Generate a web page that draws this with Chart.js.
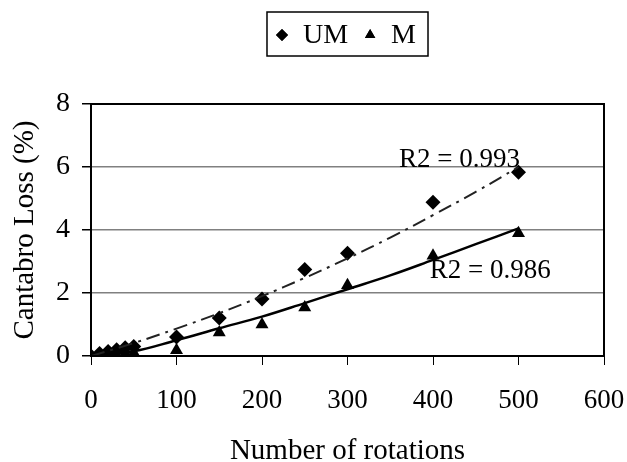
<!DOCTYPE html>
<html>
<head>
<meta charset="utf-8">
<script src="https://cdn.jsdelivr.net/npm/chart.js@4"></script>
<style>
  html, body { margin: 0; padding: 0; background: #fff; }
  #wrap { width: 627px; height: 462px; }
</style>
</head>
<body>
<div id="wrap"><canvas id="chart" width="627" height="462"></canvas></div>
<script>
// values
const rotations = [0, 10, 20, 30, 40, 50, 100, 150, 200, 250, 300, 400, 500];
const lossUM = [0, 0.08, 0.14, 0.2, 0.26, 0.3, 0.6, 1.21, 1.81, 2.75, 3.26, 4.88, 5.83];
const lossM = [0, 0, 0.02, 0.04, 0.06, 0.1, 0.18, 0.75, 1.0, 1.54, 2.25, 3.18, 3.9];

// trend lines (as drawn in the reference)
const trendX = [0, 50, 100, 150, 200, 250, 300, 350, 400, 450, 500];
const trendUM = [0, 0.41, 0.87, 1.36, 1.9, 2.48, 3.1, 3.76, 4.47, 5.21, 6.0];
const trendM = [0, 0.15, 0.5, 0.88, 1.25, 1.68, 2.12, 2.56, 3.05, 3.55, 4.05];

const seriesNames = ['UM', 'M'];
const r2Labels = ['R2 = 0.993', 'R2 = 0.986'];

const FONT = "'Liberation Serif', 'Times New Roman', serif";

const toPoints = (xs, ys) => xs.map((x, i) => ({ x, y: ys[i] }));

// draws the frame, the boxed legend and the R2 notes
const extras = {
  id: 'extras',
  afterDatasetsDraw(chart) {
    const { ctx, chartArea: a, scales: { x, y } } = chart;
    ctx.save();
    ctx.strokeStyle = '#000';
    ctx.lineWidth = 2;
    ctx.strokeRect(a.left, a.top, a.right - a.left, a.bottom - a.top);

    ctx.fillStyle = '#000';
    ctx.font = '27px ' + FONT;
    ctx.textAlign = 'center';
    ctx.textBaseline = 'alphabetic';
    ctx.fillText(r2Labels[0], x.getPixelForValue(431), y.getPixelForValue(6.0));
    ctx.fillText(r2Labels[1], x.getPixelForValue(467), y.getPixelForValue(2.47));

    // legend: marker, name, marker, name inside a thin box
    const styles = ['rectRot', 'triangle'];
    ctx.font = '28px ' + FONT;
    const widths = seriesNames.map(n => ctx.measureText(n).width);
    const padL = 15, toText = 21, toNext = 22, padR = 12;
    const bw = padL + toText + widths[0] + toNext + toText + widths[1] + padR;
    const bx = (a.left + a.right) / 2 - bw / 2;
    ctx.lineWidth = 1.5;
    ctx.strokeRect(bx, 12, bw, 44);
    let px = bx + padL;
    ctx.textAlign = 'left';
    ctx.textBaseline = 'middle';
    seriesNames.forEach((n, i) => {
      Chart.helpers.drawPoint(ctx, {
        pointStyle: styles[i], radius: 6, borderWidth: 0, rotation: 0
      }, px, 35);
      ctx.fill();
      ctx.fillText(n, px + toText, 36);
      px += toText + widths[i] + toNext;
    });
    ctx.restore();
  }
};

new Chart(document.getElementById('chart'), {
  type: 'scatter',
  data: {
    datasets: [
      {
        label: seriesNames[0],
        data: toPoints(rotations, lossUM),
        pointStyle: 'rectRot',
        pointRadius: 7.5,
        backgroundColor: '#000',
        borderWidth: 0,
        order: 2
      },
      {
        label: seriesNames[1],
        data: toPoints(rotations, lossM),
        pointStyle: 'triangle',
        pointRadius: 7.5,
        backgroundColor: '#000',
        borderWidth: 0,
        order: 2
      },
      {
        type: 'line',
        data: toPoints(trendX, trendUM),
        borderColor: '#222',
        borderWidth: 2,
        borderDash: [14, 6, 3, 6],
        pointRadius: 0,
        tension: 0.4,
        fill: false,
        order: 1
      },
      {
        type: 'line',
        data: toPoints(trendX, trendM),
        borderColor: '#000',
        borderWidth: 2.5,
        pointRadius: 0,
        tension: 0.4,
        fill: false,
        order: 1
      }
    ]
  },
  options: {
    responsive: false,
    animation: false,
    layout: { padding: { top: 104, right: 23, left: 0, bottom: 0 } },
    plugins: {
      legend: { display: false },
      tooltip: { enabled: false }
    },
    scales: {
      x: {
        type: 'linear',
        min: 0,
        max: 600,
        afterFit(s) {
          s.height = 106;
          s.paddingLeft = 0;
          s.paddingRight = 0;
        },
        ticks: {
          stepSize: 100,
          padding: 20,
          color: '#000',
          font: { family: FONT, size: 27 }
        },
        grid: { drawOnChartArea: false, tickLength: 9, tickColor: '#000', tickWidth: 1 },
        border: { color: '#000', width: 2 },
        title: {
          display: true,
          text: 'Number of rotations',
          color: '#000',
          font: { family: FONT, size: 29, lineHeight: 0.75 },
          padding: { top: 0, bottom: 0 }
        }
      },
      y: {
        min: 0,
        max: 8,
        afterFit(s) {
          s.width = 91;
          s.paddingTop = 0;
          s.paddingBottom = 0;
        },
        ticks: {
          stepSize: 2,
          padding: 12,
          color: '#000',
          font: { family: FONT, size: 28 }
        },
        grid: { color: '#808080', lineWidth: 1.5, tickLength: 9, tickColor: '#000' },
        border: { color: '#000', width: 2 },
        title: {
          display: true,
          text: 'Cantabro Loss (%)',
          color: '#000',
          font: { family: FONT, size: 29 },
          padding: { top: 8, bottom: 0 }
        }
      }
    }
  },
  plugins: [extras]
});
</script>
</body>
</html>
